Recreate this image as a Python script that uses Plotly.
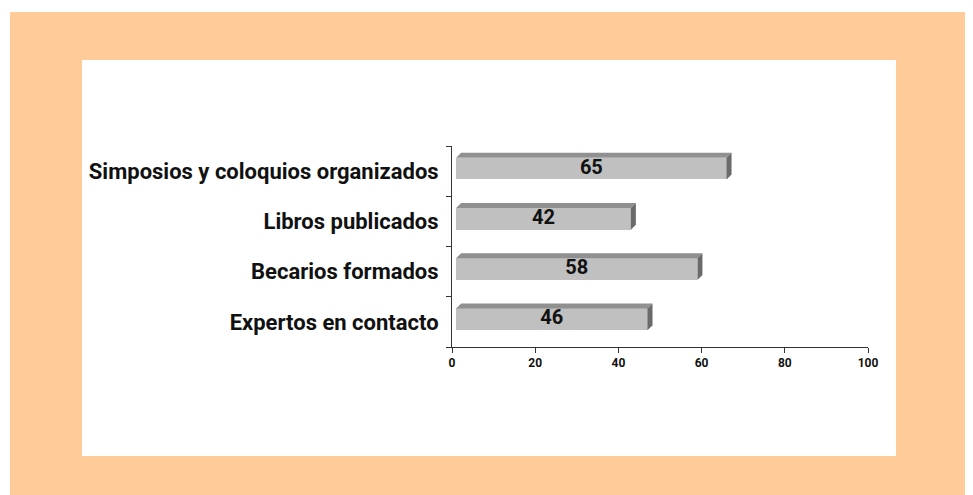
import plotly.graph_objects as go

categories = ["Expertos en contacto", "Becarios formados", "Libros publicados",
              "Simposios y coloquios organizados"]
values = [46, 58, 42, 65]
x_ticks = [0, 20, 40, 60, 80, 100]

FRONT = "#C0C0C0"
TOP = "#909090"
SIDE = "#6A6A6A"

# 3-D look parameters (data units)
d0 = 1.0        # front face starts slightly right of the axis
dx = 1.2        # depth shift in x
dy = 0.10       # depth shift in y
y_lo, y_hi = -0.165, 0.268

pos = list(range(len(categories)))

fig = go.Figure()

fig.add_trace(go.Bar(
    y=pos, x=values, base=d0, orientation="h",
    width=y_hi - y_lo, offset=y_lo,
    marker=dict(color=FRONT, line=dict(width=0)),
    hoverinfo="skip", showlegend=False,
))

for p, v in zip(pos, values):
    xe = d0 + v
    yt = p + y_hi
    yb = p + y_lo
    # top face
    fig.add_trace(go.Scatter(
        x=[d0, xe, xe + dx, d0 + dx, d0],
        y=[yt, yt, yt + dy, yt + dy, yt],
        mode="lines", fill="toself", fillcolor=TOP,
        line=dict(width=0, color=TOP), hoverinfo="skip", showlegend=False))
    # side face
    fig.add_trace(go.Scatter(
        x=[xe, xe + dx, xe + dx, xe, xe],
        y=[yb, yb + dy, yt + dy, yt, yb],
        mode="lines", fill="toself", fillcolor=SIDE,
        line=dict(width=0, color=SIDE), hoverinfo="skip", showlegend=False))

fig.add_trace(go.Scatter(
    x=[d0 + v / 2 for v in values],
    y=[p + (y_lo + y_hi) / 2 for p in pos],
    mode="text", text=[str(v) for v in values],
    textfont=dict(family="Roboto", size=20, color="#111111", weight="bold"),
    textposition="middle center", hoverinfo="skip", showlegend=False))

# page body has an 8px margin: figure origin sits at (8, 8) in the window
OFF = 8
X0, X1, Y0, Y1 = 452 - OFF, 868 - OFF, 146 - OFF, 347 - OFF
L, R, T, B = X0, 973 - X1, Y0, 495 - Y1
pw, ph = X1 - X0, Y1 - Y0

def px(xp):
    return (xp - OFF - X0) / pw

def py(yp):
    return (Y1 - (yp - OFF)) / ph

fig.add_shape(type="rect", xref="paper", yref="paper",
              x0=px(10), x1=px(990), y0=py(510), y1=py(12),
              fillcolor="#FFCC99", line=dict(width=0), layer="below")
fig.add_shape(type="rect", xref="paper", yref="paper",
              x0=px(82), x1=px(896), y0=py(456), y1=py(60),
              fillcolor="#FFFFFF", line=dict(width=0), layer="below")

fig.update_layout(
    width=973, height=495,
    margin=dict(l=L, r=R, t=T, b=B),
    paper_bgcolor="#FFFFFF", plot_bgcolor="rgba(0,0,0,0)",
    bargap=0,
    xaxis=dict(range=[0, 100], tickvals=x_ticks, ticktext=[str(t) for t in x_ticks],
               showgrid=False, zeroline=False, showline=True, linecolor="#333333",
               linewidth=1, ticks="outside", ticklen=5, tickcolor="#333333",
               tickfont=dict(family="Roboto", size=12, color="#111111", weight="bold"),
               fixedrange=True),
    yaxis=dict(range=[-0.5, 3.5], tickvals=pos, ticktext=categories,
               showgrid=False, zeroline=False, showline=True, linecolor="#333333",
               linewidth=1, ticks="", ticklabelstandoff=8,
               minor=dict(tickvals=[-0.5, 0.5, 1.5, 2.5, 3.5], ticks="outside",
                          ticklen=5, tickcolor="#333333", showgrid=False),
               tickfont=dict(family="Roboto", size=22, color="#111111", weight="bold"),
               fixedrange=True),
)

fig.write_html("out.html")
